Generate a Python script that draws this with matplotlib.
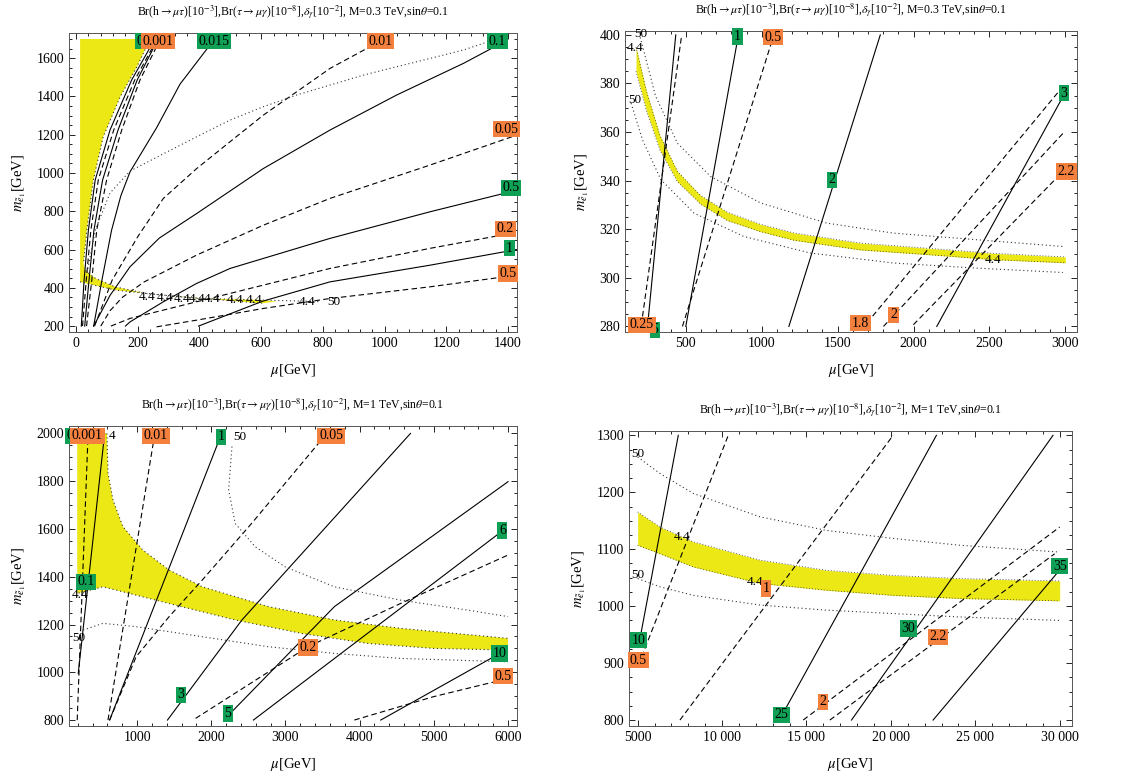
import matplotlib
matplotlib.use("Agg")
import matplotlib.pyplot as plt
from matplotlib.ticker import MultipleLocator, AutoMinorLocator, FuncFormatter

plt.rcParams['font.family'] = ['Liberation Serif', 'DejaVu Serif']
plt.rcParams['mathtext.fontset'] = 'stix'

YELLOW = '#ece815'
GREEN = '#10a055'
ORANGE = '#f4803e'

# ---------------- panel 1 : M=0.3 TeV, mu 0-1400 ----------------
p1_yellow_x = [13, 240, 197, 143, 88, 56, 35, 24, 30, 63, 127, 225, 387, 603, 650,
               603, 279, 127, 13]
p1_yellow_y = [1700, 1700, 1554, 1398, 1189, 963, 701, 528, 490, 449, 405, 371, 345, 336, 328,
               319, 362, 388, 431]
cluster_y = [200, 440, 701, 963, 1224, 1485, 1650]
p1_solid = [
    ([17, 26, 40, 62, 110, 180, 238], cluster_y),
    ([28, 42, 58, 86, 136, 198, 250], cluster_y),
    ([57, 85, 115, 145, 175, 261, 337, 430], [200, 450, 700, 880, 1006, 1236, 1464, 1660]),
    ([57, 110, 175, 270, 391, 607, 823, 1039, 1255, 1352],
     [200, 360, 510, 660, 788, 1023, 1224, 1407, 1572, 1655]),
    ([160, 175, 283, 391, 499, 823, 1147, 1429], [200, 222, 327, 423, 501, 658, 797, 910]),
    ([397, 605, 823, 1147, 1429], [200, 330, 431, 518, 600]),
]
p1_dashed = [
    ([21, 33, 48, 72, 122, 190, 246], cluster_y),
    ([34, 51, 67, 99, 148, 207, 258], cluster_y),
    ([60, 117, 200, 283, 391, 499, 607, 715, 823, 942],
     [200, 440, 667, 867, 1023, 1163, 1302, 1424, 1546, 1650]),
    ([80, 110, 150, 220, 391, 607, 823, 1147, 1429], [200, 280, 350, 430, 571, 727, 867, 1041, 1198]),
    ([113, 175, 391, 607, 823, 1147, 1429], [200, 240, 327, 414, 501, 606, 690]),
    ([261, 391, 607, 823, 1147, 1429], [196, 231, 292, 344, 405, 466]),
]
p1_dotted = [
    ([36, 63, 110, 175, 283, 391, 499, 607, 715, 823, 931, 1039, 1147, 1255, 1342],
     [480, 705, 895, 1010, 1100, 1189, 1276, 1346, 1407, 1459, 1511, 1555, 1598, 1642, 1689]),
    ([240, 197, 143, 88, 56, 35, 24], [1700, 1554, 1398, 1189, 963, 701, 528]),
    ([30, 63, 127, 225, 387, 603, 790], [490, 449, 405, 371, 345, 336, 328]),
    ([13, 127, 279, 603], [431, 388, 362, 319]),
]
p1_green = [("0", 207, 1689), ("0.015", 447, 1689), ("0.1", 1366, 1689),
            ("0.5", 1410, 922), ("1", 1405, 607)]
p1_orange = [("0.001", 266, 1689), ("0.01", 987, 1689), ("0.05", 1395, 1228),
             ("0.2", 1392, 708), ("0.5", 1400, 475)]
p1_plain = [("4.4", 231, 350), ("4.4", 288, 346), ("4.4", 345, 343), ("4.4", 393, 341),
            ("4.4", 442, 340), ("4.4", 515, 336), ("4.4", 577, 334), ("4.4", 748, 327),
            ("50", 834, 327)]

# ---------------- panel 2 : M=0.3 TeV, mu 100-3000 ----------------
p2_band_x = [172, 240, 330, 445, 598, 774, 993, 1211, 1649, 2087, 2525, 3000]
p2_band_hi = [395, 377, 358.5, 343.8, 333.9, 327, 322, 318.5, 314.3, 312.2, 310.1, 308.6]
p2_band_lo = [385, 369, 352.5, 339.6, 330.3, 323.6, 319, 315.5, 311.5, 309.6, 307.5, 306.2]
p2_solid = [
    ([248, 434], [280, 400]),
    ([500, 841], [280, 398]),
    ([1179, 1781], [280, 400]),
    ([2153, 2984], [280, 374.6]),
]
p2_dashed = [
    ([215, 471], [284.1, 399]),
    ([478, 1060], [280, 396]),
    ([1693, 2984], [281.4, 378.8]),
    ([1802, 2995], [280, 360.2]),
    ([1999, 2995], [280.7, 344.5]),
]
p2_dotted = [
    ([200, 300, 445, 664, 993, 1430, 1868, 2415, 2984],
     [399, 375, 355.4, 341.7, 330.8, 322.5, 318.4, 315.7, 312.9]),
    ([140, 215, 336, 555, 883, 1321, 1868, 2415, 2984],
     [371.9, 356.8, 340.4, 326.6, 317, 310.2, 306.1, 304, 302.2]),
]
p2_green = [("5", 295, 278.6), ("1", 841, 399.4), ("2", 1463, 340.4), ("3", 2989, 376)]
p2_orange = [("0.25", 212, 280.7), ("0.5", 1076, 399), ("1.8", 1649, 281.4),
             ("2", 1868, 284.8), ("2.2", 3006, 343.8)]
p2_plain = [("50", 205, 400.3), ("4.4", 165, 394.8), ("50", 165, 373), ("4.4", 2525, 307.4)]

# ---------------- panel 3 : M=1 TeV, mu 100-6000 ----------------
p3_yellow_x = [193, 594, 608, 675, 808, 1076, 1432, 1878, 2769, 3660, 4551, 6000,
               6000, 4997, 4106, 3215, 2323, 1432, 987, 541, 193]
p3_yellow_y = [2000, 2000, 1833, 1721, 1610, 1512, 1428, 1358, 1275, 1219, 1184, 1142,
               1093, 1100, 1121, 1163, 1219, 1288, 1323, 1358, 1330]
p3_solid = [
    ([207, 563], [995, 2000]),
    ([630, 2123], [800, 1986]),
    ([1410, 2413, 4685], [800, 1219, 2000]),
    ([2234, 3660, 6000], [821, 1275, 1798]),
    ([2568, 5911], [800, 1589]),
    ([4284, 5888], [800, 1079]),
]
p3_dashed = [
    ([193, 340], [800, 2000]),
    ([608, 1232], [800, 1986]),
    ([630, 987, 1432, 1878, 2546, 3482], [800, 1065, 1233, 1386, 1624, 1972]),
    ([1789, 3304, 4551, 6000], [807, 1107, 1288, 1491]),
    ([3928, 4997, 6000], [800, 898, 974]),
]
p3_dotted = [
    ([2279, 2234, 2323, 2591, 2992, 3660, 4551, 5443, 6000],
     [1945, 1763, 1623, 1526, 1442, 1358, 1302, 1261, 1233]),
    ([274, 541, 987, 1878, 2769, 3660, 4551, 6000],
     [1177, 1205, 1191, 1149, 1107, 1079, 1058, 1044]),
    ([594, 608, 675, 808, 1076, 1432, 1878, 2769, 3660, 4551, 6000],
     [2000, 1833, 1721, 1610, 1512, 1428, 1358, 1275, 1219, 1184, 1142]),
    ([6000, 4997, 4106, 3215, 2323, 1432, 987, 541, 193],
     [1093, 1100, 1121, 1163, 1219, 1288, 1323, 1358, 1330]),
]
p3_green = [("0", 100, 1990), ("0.1", 309, 1379), ("1", 2132, 1986), ("3", 1588, 905),
            ("5", 2225, 828), ("6", 5924, 1593), ("10", 5888, 1079)]
p3_orange = [("0.001", 330, 1990), ("0.01", 1254, 1990), ("0.05", 3616, 1990),
             ("0.2", 3304, 1104), ("0.5", 5933, 984)]
p3_plain = [("4", 660, 1990), ("50", 2390, 1986), ("50", 220, 1142), ("4.4", 230, 1325)]

# ---------------- panel 4 : M=1 TeV, mu 5000-30000 ----------------
p4_band_x = [5000, 6322, 8295, 12241, 16188, 20134, 24080, 30000]
p4_band_hi = [1165.5, 1139, 1113, 1081, 1063, 1054, 1048.5, 1044.4]
p4_band_lo = [1107, 1092, 1069, 1040, 1028, 1019, 1013.5, 1009.4]
p4_solid = [
    ([5138, 7407], [943, 1300]),
    ([13819, 22698], [823, 1300]),
    ([17667, 29604], [800, 1300]),
    ([22501, 29900], [800, 1060]),
]
p4_dashed = [
    ([5237, 10366], [911, 1300]),
    ([7506, 20134], [800, 1300]),
    ([14806, 30000], [800, 1139]),
    ([16385, 29703], [800, 1092]),
]
p4_dotted = [
    ([5000, 6322, 8295, 12241, 16188, 20134, 24080, 30000],
     [1262, 1233, 1198, 1157, 1133, 1119, 1107, 1095]),
    ([5000, 6322, 8295, 12241, 16188, 20134, 24080, 30000],
     [1048.5, 1034, 1019, 1002, 993, 987, 981, 975]),
]
p4_green = [("10", 5039, 940), ("25", 13524, 809), ("30", 21021, 961), ("35", 30000, 1070)]
p4_orange = [("0.5", 5039, 905), ("1", 12596, 1031), ("2", 15990, 832), ("2.2", 22797, 946)]
p4_plain = [("50", 5039, 1268), ("50", 5039, 1054), ("4.4", 7604, 1122), ("4.4", 11945, 1043)]

title_03 = (r'Br(h$\rightarrow\mu\tau$)[10$^{-3}$],Br($\tau\rightarrow\mu\gamma$)[10$^{-8}$],'
            r'$\delta_\gamma$[10$^{-2}$], M=0.3 TeV,sin$\theta$=0.1')
title_1 = (r'Br(h$\rightarrow\mu\tau$)[10$^{-3}$],Br($\tau\rightarrow\mu\gamma$)[10$^{-8}$],'
           r'$\delta_\gamma$[10$^{-2}$], M=1 TeV,sin$\theta$=0.1')

fig = plt.figure(figsize=(11.25, 7.79), dpi=100)
ax1 = fig.add_axes([0.0613, 0.5738, 0.3982, 0.3838])
ax2 = fig.add_axes([0.5556, 0.5738, 0.4018, 0.3864])
ax3 = fig.add_axes([0.0613, 0.0680, 0.3982, 0.3851])
ax4 = fig.add_axes([0.5591, 0.0680, 0.3938, 0.3787])


def draw(ax, solid, dashed, dotted, green, orange, plain):
    for x, y in solid:
        ax.plot(x, y, color='black', lw=0.8)
    for x, y in dashed:
        ax.plot(x, y, color='black', lw=0.8, ls=(0, (5, 3)))
    for x, y in dotted:
        ax.plot(x, y, color='#333333', lw=0.8, ls=(0, (1, 2.5)))
    for s, x, y in plain:
        ax.text(x, y, s, fontsize=9.5, ha='center', va='center', zorder=4)
    for s, x, y in green:
        ax.text(x, y, s, fontsize=10, ha='center', va='center', zorder=5,
                bbox=dict(boxstyle='square,pad=0.12', fc=GREEN, ec='none'))
    for s, x, y in orange:
        ax.text(x, y, s, fontsize=10, ha='center', va='center', zorder=6,
                bbox=dict(boxstyle='square,pad=0.12', fc=ORANGE, ec='none'))


ax1.fill(p1_yellow_x, p1_yellow_y, color=YELLOW, lw=0, zorder=0)
draw(ax1, p1_solid, p1_dashed, p1_dotted, p1_green, p1_orange, p1_plain)
ax1.set_xlim(-23, 1429)
ax1.set_ylim(169, 1731)
ax1.xaxis.set_major_locator(MultipleLocator(200))
ax1.yaxis.set_major_locator(MultipleLocator(200))

ax2.fill_between(p2_band_x, p2_band_lo, p2_band_hi, color=YELLOW, lw=0, zorder=0)
ax2.plot(p2_band_x, p2_band_hi, color='#333333', lw=0.6, ls=(0, (1, 2.5)))
ax2.plot(p2_band_x, p2_band_lo, color='#333333', lw=0.6, ls=(0, (1, 2.5)))
draw(ax2, p2_solid, p2_dashed, p2_dotted, p2_green, p2_orange, p2_plain)
ax2.set_xlim(100, 3077)
ax2.set_ylim(277.7, 401.6)
ax2.xaxis.set_major_locator(MultipleLocator(500))
ax2.yaxis.set_major_locator(MultipleLocator(20))

ax3.fill(p3_yellow_x, p3_yellow_y, color=YELLOW, lw=0, zorder=0)
draw(ax3, p3_solid, p3_dashed, p3_dotted, p3_green, p3_orange, p3_plain)
ax3.set_xlim(82, 6120)
ax3.set_ylim(775, 2031)
ax3.xaxis.set_major_locator(MultipleLocator(1000))
ax3.yaxis.set_major_locator(MultipleLocator(200))

ax4.fill_between(p4_band_x, p4_band_lo, p4_band_hi, color=YELLOW, lw=0, zorder=0)
ax4.plot(p4_band_x, p4_band_hi, color='#333333', lw=0.6, ls=(0, (1, 2.5)))
ax4.plot(p4_band_x, p4_band_lo, color='#333333', lw=0.6, ls=(0, (1, 2.5)))
draw(ax4, p4_solid, p4_dashed, p4_dotted, p4_green, p4_orange, p4_plain)
ax4.set_xlim(4487, 30730)
ax4.set_ylim(789.5, 1307.6)
ax4.xaxis.set_major_locator(MultipleLocator(5000))
ax4.yaxis.set_major_locator(MultipleLocator(100))
ax4.xaxis.set_major_formatter(FuncFormatter(
    lambda v, p: f"{int(v)}" if v < 10000 else f"{int(v) // 1000} {int(v) % 1000:03d}"))

for ax, t in [(ax1, title_03), (ax2, title_03), (ax3, title_1), (ax4, title_1)]:
    ax.set_title(t, fontsize=8.5, pad=12)
    ax.set_xlabel(r'$\mu$[GeV]', fontsize=10.5, labelpad=9)
    ax.set_ylabel(r'$m_{\tilde{e}_1}$[GeV]', fontsize=10.5, labelpad=6)
    ax.xaxis.set_minor_locator(AutoMinorLocator(5))
    ax.yaxis.set_minor_locator(AutoMinorLocator(4))
    ax.tick_params(which='both', direction='in', top=True, right=True, labelsize=10, width=0.6)
    ax.tick_params(which='major', length=4)
    ax.tick_params(which='minor', length=2)
    for sp in ax.spines.values():
        sp.set_linewidth(0.7)
        sp.set_color('#555555')

fig.savefig('out.png', dpi=100)
